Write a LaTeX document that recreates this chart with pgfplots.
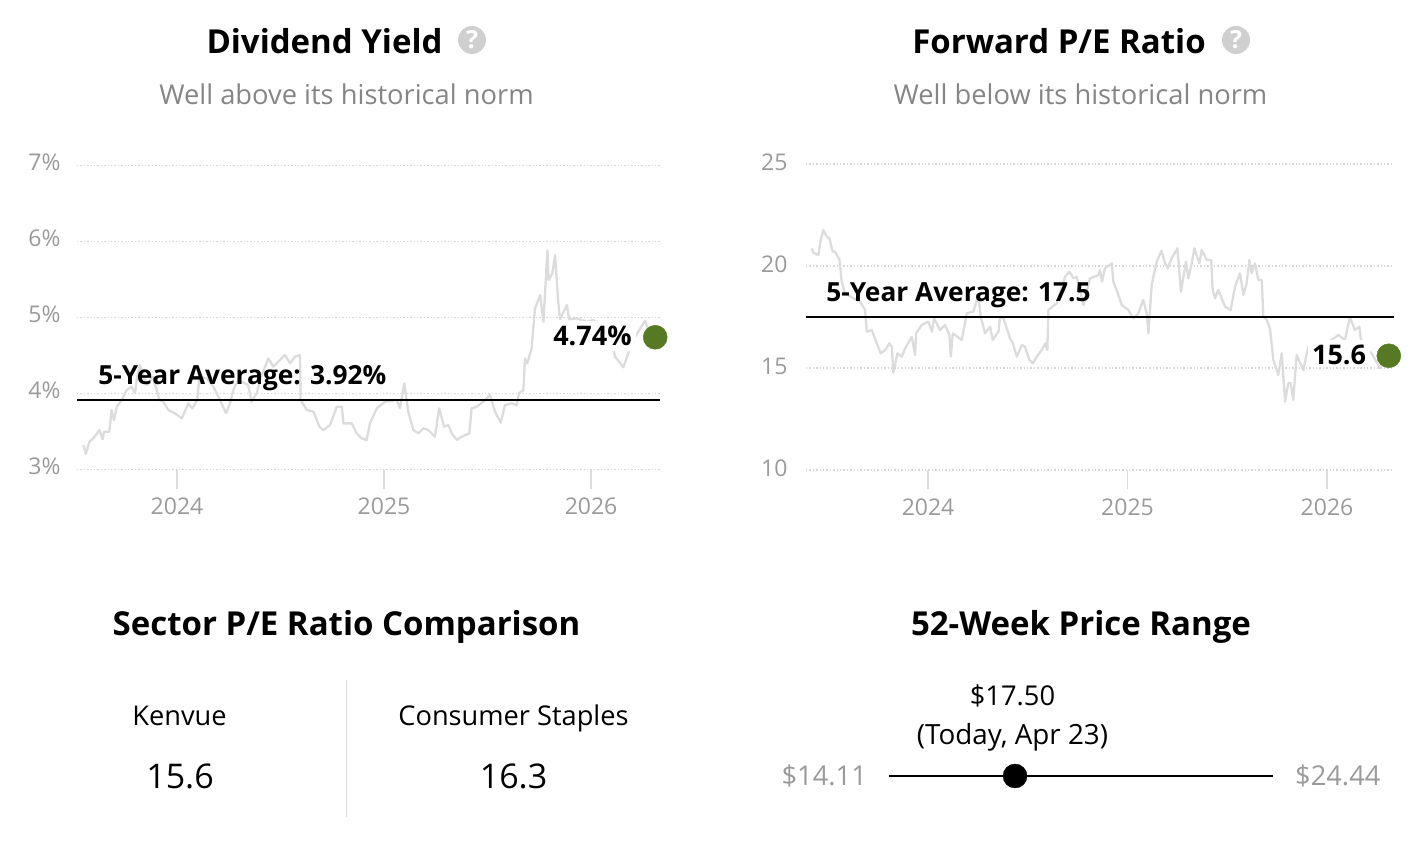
\documentclass[border=0pt]{standalone}
\usepackage{fontspec}
\setmainfont{Open Sans}
\usepackage{pgfplots}
\usepackage{pgfplotstable}
\pgfplotsset{compat=1.18}

\definecolor{trendgray}{HTML}{DCDCDC}
\definecolor{gridgray}{HTML}{D6D6D6}
\definecolor{ticktext}{HTML}{9A9A9A}
\definecolor{subtext}{HTML}{858585}
\definecolor{dotgreen}{HTML}{567A24}
\definecolor{helpgray}{HTML}{CFCFCF}

\newcommand{\fs}[1]{\fontsize{#1}{#1}\selectfont}

% dividend yield, year / percent
\pgfplotstableread{
year val
2023.548 3.322
2023.560 3.204
2023.577 3.366
2023.596 3.410
2023.625 3.519
2023.641 3.397
2023.647 3.497
2023.673 3.497
2023.684 3.783
2023.696 3.651
2023.709 3.826
2023.733 3.914
2023.757 4.046
2023.781 4.090
2023.797 4.002
2023.808 4.221
2023.821 4.375
2023.837 4.221
2023.857 4.112
2023.882 4.221
2023.902 4.046
2023.915 3.914
2023.934 3.892
2023.958 3.783
2023.990 3.739
2024.023 3.673
2024.055 3.870
2024.074 3.805
2024.098 3.914
2024.108 4.221
2024.143 4.199
2024.176 4.090
2024.208 3.914
2024.237 3.739
2024.256 3.870
2024.272 4.046
2024.296 4.177
2024.344 4.112
2024.360 3.892
2024.385 4.002
2024.401 4.177
2024.441 4.462
2024.465 4.353
2024.490 4.419
2024.522 4.506
2024.546 4.397
2024.570 4.484
2024.594 4.506
2024.597 3.914
2024.627 3.783
2024.659 3.761
2024.688 3.563
2024.707 3.519
2024.739 3.585
2024.772 3.826
2024.796 3.826
2024.804 3.607
2024.844 3.607
2024.868 3.476
2024.892 3.410
2024.916 3.388
2024.932 3.607
2024.965 3.805
2025.005 3.892
2025.061 3.914
2025.077 3.805
2025.098 4.133
2025.117 3.761
2025.142 3.519
2025.166 3.476
2025.190 3.541
2025.214 3.519
2025.246 3.432
2025.266 3.805
2025.290 3.563
2025.311 3.585
2025.327 3.476
2025.351 3.388
2025.375 3.432
2025.412 3.476
2025.423 3.805
2025.448 3.826
2025.488 3.914
2025.512 3.980
2025.536 3.761
2025.564 3.616
2025.584 3.848
2025.617 3.870
2025.641 3.848
2025.652 4.002
2025.673 4.046
2025.681 4.462
2025.692 4.397
2025.713 4.594
2025.729 5.120
2025.754 5.296
2025.770 4.945
2025.789 5.879
2025.795 5.493
2025.813 5.581
2025.826 5.822
2025.842 5.186
2025.850 4.976
2025.883 5.164
2025.895 4.976
2025.931 4.989
2025.979 4.945
2026.011 4.967
2026.044 4.879
2026.076 4.747
2026.100 4.660
2026.116 4.484
2026.156 4.344
2026.185 4.572
2026.213 4.747
2026.261 4.958
2026.277 4.835
2026.310 4.740
}\yieldtable

% forward p/e, year / ratio
\pgfplotstableread{
year val
2023.417 20.866
2023.425 20.653
2023.450 20.539
2023.462 21.274
2023.475 21.765
2023.492 21.438
2023.505 21.356
2023.522 20.703
2023.534 20.703
2023.556 20.294
2023.567 19.232
2023.584 18.660
2023.626 18.415
2023.659 18.252
2023.684 17.843
2023.693 16.781
2023.718 16.863
2023.746 16.127
2023.763 15.719
2023.785 15.882
2023.806 16.209
2023.818 16.046
2023.826 14.771
2023.846 15.719
2023.868 15.555
2023.885 15.964
2023.918 16.536
2023.935 15.637
2023.940 16.699
2023.968 17.108
2024.002 17.271
2024.019 16.781
2024.030 17.435
2024.060 16.863
2024.085 17.108
2024.107 16.618
2024.114 15.555
2024.124 16.699
2024.169 16.372
2024.194 17.680
2024.227 17.761
2024.252 18.578
2024.264 17.516
2024.286 16.699
2024.311 17.026
2024.324 16.372
2024.353 16.781
2024.361 17.516
2024.378 17.435
2024.411 16.454
2024.425 16.209
2024.445 15.555
2024.470 16.127
2024.486 16.046
2024.508 15.392
2024.525 15.229
2024.545 15.555
2024.570 15.882
2024.587 16.209
2024.598 15.882
2024.603 17.843
2024.645 18.170
2024.687 19.477
2024.709 19.722
2024.729 19.395
2024.745 19.477
2024.779 18.088
2024.812 19.395
2024.854 19.559
2024.862 19.804
2024.872 19.232
2024.887 19.886
2024.921 20.131
2024.929 19.232
2024.954 18.579
2024.971 18.089
2025.004 17.843
2025.029 17.435
2025.054 17.680
2025.079 18.334
2025.096 17.680
2025.105 16.700
2025.121 19.069
2025.146 20.213
2025.171 20.752
2025.188 20.131
2025.201 19.886
2025.221 20.376
2025.250 20.866
2025.268 18.742
2025.293 20.213
2025.305 19.396
2025.322 20.131
2025.335 20.866
2025.360 20.131
2025.372 20.785
2025.397 20.294
2025.419 20.294
2025.427 18.824
2025.439 18.415
2025.455 18.824
2025.489 18.007
2025.517 17.843
2025.539 18.987
2025.564 19.641
2025.581 18.579
2025.597 19.151
2025.611 20.294
2025.622 19.641
2025.639 20.131
2025.656 19.314
2025.673 19.314
2025.681 17.517
2025.698 17.353
2025.714 16.945
2025.731 15.392
2025.756 14.657
2025.773 15.719
2025.790 13.350
2025.806 14.249
2025.818 14.249
2025.831 13.432
2025.848 15.638
2025.881 14.902
2025.906 16.046
2025.932 15.638
2025.998 16.209
2026.057 16.618
2026.090 16.373
2026.115 17.484
2026.140 16.863
2026.162 17.026
2026.169 16.455
2026.199 15.883
2026.224 15.719
2026.266 14.984
2026.310 15.600
}\petable

\tikzset{
  gridline/.style={gridgray,line width=1.3pt,dash pattern=on 1.4pt off 2pt},
  series/.style={trendgray,line width=2.3pt,line join=round},
  avgline/.style={black,line width=2pt},
  lastdot/.style={dotgreen,mark=*,mark size=12pt,mark options={draw=none,fill=dotgreen}},
  vallabel/.style={anchor=east,inner xsep=4pt,inner ysep=5pt,fill=white,font=\fs{27}\bfseries},
}
\pgfplotsset{
  trend/.style={
    scale only axis,
    clip=false,
    anchor=south west,
    axis line style={draw=none},
    ymajorgrids,
    grid style={gridline},
    xtick pos=bottom,
    ytick pos=left,
    xtick={2024,2025,2026},
    xticklabels={2024,2025,2026},
    x tick style={trendgray,line width=1.6pt},
    y tick style={draw=none},
    major tick length=19pt,
    tick align=outside,
    tick label style={font=\fs{23},text=ticktext},
    xticklabel style={yshift=-6pt},
    /pgf/number format/assume math mode=true,
  },
}

\begin{document}
\begin{tikzpicture}[x=1pt,y=1pt]
\useasboundingbox (0,0) rectangle (1414,-842);

% titles
\node[font=\fs{33}\bfseries] at (324.5,-41) {Dividend Yield};
\node[circle,fill=helpgray,inner sep=0pt,minimum size=28pt,text=white,font=\fs{25}\bfseries] at (472,-40) {?};
\node[font=\fs{27.3},text=subtext] at (346.5,-94) {Well above its historical norm};
\node[font=\fs{33}\bfseries] at (1059,-41) {Forward P/E Ratio};
\node[circle,fill=helpgray,inner sep=0pt,minimum size=28pt,text=white,font=\fs{25}\bfseries] at (1236,-40) {?};
\node[font=\fs{27.3},text=subtext] at (1080.5,-94) {Well below its historical norm};

% dividend yield
\begin{axis}[trend,at={(77pt,-469.5pt)},width=583pt,height=304pt,
    xmin=2023.517,xmax=2026.333,ymin=3,ymax=7,
    y tick label style={anchor=east,xshift=6pt,yshift=3pt},
    ytick={3,4,5,6,7},yticklabels={3\%,4\%,5\%,6\%,7\%}]
  \addplot[series] table[x=year,y=val] {\yieldtable};
  \addplot[avgline] coordinates {(2023.517,3.92) (2026.333,3.92)};
  \node[anchor=west,inner sep=0pt,font=\fs{26.3}\bfseries] at (axis cs:2023.619,4.2) {5-Year Average: 3.92\%};
  \node[vallabel] at (axis cs:2026.216,4.76) {4.74\%};
  \addplot[gridline] coordinates {(2023.517,5) (2026.333,5)};
  \addplot[lastdot,only marks] coordinates {(2026.31,4.74)};
\end{axis}

% forward p/e
\begin{axis}[trend,at={(806pt,-470pt)},width=588pt,height=306pt,
    xmin=2023.388,xmax=2026.336,ymin=10,ymax=25,
    y tick label style={anchor=east,xshift=4pt,yshift=2pt},
    ytick={10,15,20,25},yticklabels={10,15,20,25}]
  \addplot[series] table[x=year,y=val] {\petable};
  \addplot[avgline] coordinates {(2023.388,17.5) (2026.336,17.5)};
  \node[anchor=west,inner sep=0pt,font=\fs{26.3}\bfseries] at (axis cs:2023.489,18.55) {5-Year Average: 17.5};
  \node[vallabel] at (axis cs:2026.217,15.65) {15.6};
  \addplot[gridline] coordinates {(2023.388,15) (2026.336,15)};
  \addplot[lastdot,only marks] coordinates {(2026.31,15.6)};
\end{axis}

% sector comparison
\node[font=\fs{33}\bfseries] at (346.5,-627) {Sector P/E Ratio Comparison};
\draw[trendgray,line width=1.6pt] (346.5,-680) -- (346.5,-817);
\node[font=\fs{27.2}] at (179.5,-716) {Kenvue};
\node[font=\fs{34}] at (180,-776) {15.6};
\node[font=\fs{27.2}] at (513.5,-718) {Consumer Staples};
\node[font=\fs{34}] at (513.5,-776) {16.3};

% 52-week range
\node[font=\fs{33}\bfseries] at (1081,-627) {52-Week Price Range};
\begin{axis}[scale only axis,hide axis,clip=false,anchor=west,at={(889pt,-776pt)},
    width=384pt,height=20pt,xmin=14.11,xmax=24.44,ymin=-1,ymax=1]
  \addplot[black,line width=2pt] coordinates {(14.11,0) (24.44,0)};
  \addplot[black,only marks,mark=*,mark size=12pt,mark options={draw=none,fill=black}] coordinates {(17.50,0)};
  \node[font=\fs{27.3},text=ticktext,anchor=east,inner sep=0pt] at (axis cs:13.52,0) {\$14.11};
  \node[font=\fs{27.3},text=ticktext,anchor=west,inner sep=0pt] at (axis cs:25.03,0) {\$24.44};
\end{axis}
\node[font=\fs{27.3}] at (1012.5,-696) {\$17.50};
\node[font=\fs{27.8}] at (1012.5,-737) {(Today, Apr 23)};
\end{tikzpicture}
\end{document}
